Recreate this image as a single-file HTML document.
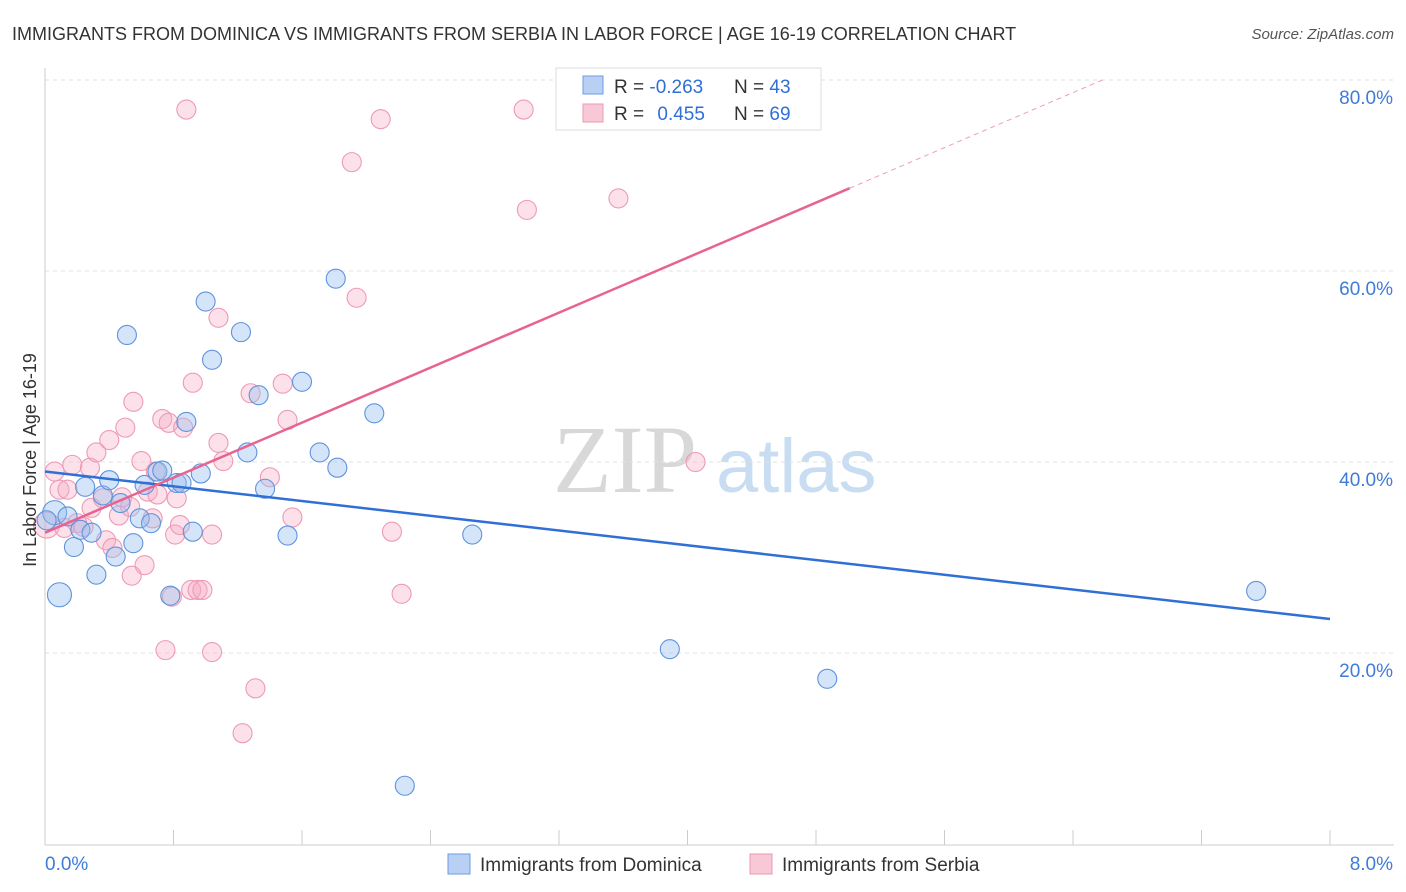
<!DOCTYPE html>
<html><head><meta charset="utf-8"><style>
body{margin:0;background:#fff;font-family:"Liberation Sans",sans-serif;}
</style></head><body>
<svg id="chart" width="1406" height="892" style="display:block">
<text x="12" y="40" font-size="18" fill="#333">IMMIGRANTS FROM DOMINICA VS IMMIGRANTS FROM SERBIA IN LABOR FORCE | AGE 16-19 CORRELATION CHART</text>
<text x="1394" y="39" font-size="15" fill="#555" font-style="italic" text-anchor="end">Source: ZipAtlas.com</text>
<g>
<text x="553" y="492" font-size="96" font-family="Liberation Serif,serif" fill="#d8d8d8">ZIP</text>
<text x="716" y="492" font-size="76" fill="#c8dcf2">atlas</text>
</g>
<g id="grid"></g>
<g id="axes"></g>
<g id="marks"></g>
<text x="36" y="460" font-size="18" fill="#333" text-anchor="middle" transform="rotate(-90 36 460)">In Labor Force | Age 16-19</text>
<g>
<rect x="556" y="68" width="265" height="62" fill="#fff" stroke="#ddd"/>
<rect x="583" y="76" width="20" height="18" fill="#b8d0f4" stroke="#6f9be0"/>
<rect x="583" y="104" width="20" height="18" fill="#f9c8d6" stroke="#ea9ab2"/>
<text x="614" y="93" font-size="19" fill="#333">R = <tspan fill="#2f6fd6">-0.263</tspan></text>
<text x="734" y="93" font-size="19" fill="#333">N = <tspan fill="#2f6fd6">43</tspan></text>
<text x="614" y="120" font-size="19" fill="#333">R = <tspan fill="#2f6fd6" dx="8">0.455</tspan></text>
<text x="734" y="120" font-size="19" fill="#333">N = <tspan fill="#2f6fd6">69</tspan></text>
</g>
<g>
<rect x="448" y="854" width="22" height="20" fill="#b8d0f4" stroke="#6f9be0"/>
<text x="480" y="871" font-size="19" fill="#333">Immigrants from Dominica</text>
<rect x="750" y="854" width="22" height="20" fill="#f9c8d6" stroke="#ea9ab2"/>
<text x="782" y="871" font-size="19" fill="#333">Immigrants from Serbia</text>
</g>
</svg>
<script>
const xTickVals=[0,0.8,1.6,2.4,3.2,4,4.8,5.6,6.4,7.2,8];
const yTickVals=[20,40,60,80];
const yTickLabels=["20.0%","40.0%","60.0%","80.0%"];
const xEndLabels=["0.0%","8.0%"];
const domX=[0.06,0.09,0.14,0.18,0.22,0.25,0.29,0.32,0.36,0.40,0.44,0.47,0.51,0.55,0.59,0.62,0.66,0.70,0.73,0.78,0.82,0.85,0.88,0.92,0.97,1.00,1.04,1.22,1.26,1.33,1.37,1.51,1.60,1.71,1.81,1.82,2.05,2.24,2.66,3.89,4.87,7.54,0.01];
const domY=[34.7,26.1,34.3,31.1,32.9,37.4,32.6,28.2,36.5,38.1,30.1,35.7,53.3,31.5,34.1,37.6,33.6,39.0,39.1,26.0,37.8,37.8,44.2,32.7,38.8,56.8,50.7,53.6,41.0,47.0,37.2,32.3,48.4,41.0,59.2,39.4,45.1,6.1,32.4,20.4,17.3,26.5,33.9];
const serX=[0.01,0.06,0.09,0.12,0.14,0.17,0.2,0.24,0.28,0.29,0.32,0.36,0.38,0.40,0.42,0.46,0.48,0.50,0.53,0.54,0.55,0.60,0.62,0.64,0.67,0.69,0.70,0.73,0.75,0.77,0.79,0.81,0.82,0.84,0.86,0.88,0.91,0.92,0.95,0.98,1.04,1.04,1.08,1.08,1.11,1.23,1.28,1.31,1.40,1.48,1.51,1.54,1.91,1.94,2.09,2.16,2.22,2.98,3.00,3.57,4.05];
const serY=[33.4,39.0,37.1,33.1,37.1,39.7,33.6,33.2,39.4,35.2,41.0,36.2,31.8,42.3,31.0,34.4,36.3,43.6,35.3,28.1,46.3,40.1,29.2,36.9,34.1,39.0,36.6,44.5,20.3,44.1,25.9,32.4,36.2,33.4,43.6,76.9,26.6,48.3,26.6,26.6,20.1,32.4,55.1,42.0,40.1,11.6,47.2,16.3,38.4,48.2,44.4,34.2,71.4,57.2,75.9,32.7,26.2,76.9,66.4,67.6,40.0];
const domBig=[0,1];
const serBig=[0];
const domFit=[39.0,-1.93];
const serFit=[32.6,7.2];
const serSolidEnd=5.01;
const NS="http://www.w3.org/2000/svg";
const X=v=>45+v*160.625;
const Y=v=>844-v*9.55;
function mk(tag,attrs,parent){const e=document.createElementNS(NS,tag);for(const k in attrs)e.setAttribute(k,attrs[k]);document.getElementById(parent).appendChild(e);return e;}
yTickVals.forEach((v,i)=>{
 const g=mk('line',{x1:45,x2:1394,y1:Y(v),y2:Y(v),stroke:'#e2e2e2','stroke-dasharray':'4,4'},'grid');
 
 
 const t=mk('text',{x:1393,y:Y(v)+24,'font-size':19,fill:'#3f7bd9','text-anchor':'end'},'axes');
 t.textContent=yTickLabels[i];
 
 
});
const ax=mk('line',{x1:45,x2:1394,y1:845,y2:845,stroke:'#ccc'},'axes');


const ay=mk('line',{x1:45,x2:45,y1:68,y2:845,stroke:'#ccc'},'axes');


xTickVals.forEach(v=>{
 const t=mk('line',{x1:X(v),x2:X(v),y1:830,y2:845,stroke:'#ccc'},'axes');
 
 
});
[[0,'start'],[8,'end']].forEach(([v,a],i)=>{
 const t=mk('text',{x:i?1393:X(v),y:870,'font-size':19,fill:'#3f7bd9','text-anchor':a},'axes');
 t.textContent=xEndLabels[i];
 
 
});
serX.forEach((v,i)=>{
 const c=mk('circle',{cx:X(v),cy:Y(serY[i]),r:serBig.includes(i)?13:9.5,fill:'rgba(246,170,195,0.35)',stroke:'#ee9ab5','stroke-width':1.1},'marks');
 
 
});
domX.forEach((v,i)=>{
 const c=mk('circle',{cx:X(v),cy:Y(domY[i]),r:domBig.includes(i)?12:9.5,fill:'rgba(150,190,240,0.4)',stroke:'#5f93dc','stroke-width':1.1},'marks');
 
 
});
const bl=mk('line',{x1:X(0),y1:Y(domFit[0]),x2:X(8),y2:Y(domFit[0]+domFit[1]*8),stroke:'#2f6fd6','stroke-width':2.5},'marks');


const pl=mk('line',{x1:X(0),y1:Y(serFit[0]),x2:X(serSolidEnd),y2:Y(serFit[0]+serFit[1]*serSolidEnd),stroke:'#e8638f','stroke-width':2.5},'marks');


const xe=(80-serFit[0])/serFit[1];
const pd=mk('line',{x1:X(serSolidEnd),y1:Y(serFit[0]+serFit[1]*serSolidEnd),x2:X(xe),y2:Y(80),stroke:'#eaa0b8','stroke-width':1,'stroke-dasharray':'5,4'},'marks');


</script>
</body></html>
